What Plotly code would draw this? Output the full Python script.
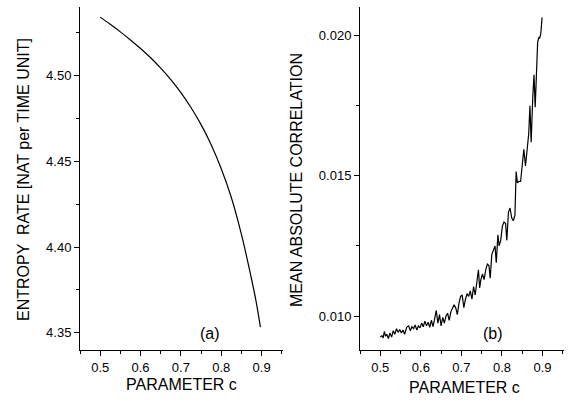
import plotly.graph_objects as go

# Panel (a): entropy rate vs parameter c
c_a = [0.500, 0.525, 0.550, 0.575, 0.600, 0.625, 0.650, 0.675, 0.700, 0.725,
       0.750, 0.775, 0.800, 0.825, 0.850, 0.875, 0.887, 0.897]
entropy = [4.5341, 4.5299, 4.5255, 4.5208, 4.5158, 4.5104, 4.5044, 4.4977, 4.4901, 4.4814,
           4.4714, 4.4597, 4.4457, 4.4289, 4.4074, 4.3814, 4.3675, 4.3533]

# Panel (b): mean absolute correlation vs parameter c
c_b = [0.500, 0.504, 0.507, 0.510, 0.513, 0.516, 0.520, 0.524, 0.528, 0.532,
       0.536, 0.540, 0.544, 0.548, 0.552, 0.556, 0.560, 0.565, 0.570, 0.574,
       0.578, 0.582, 0.586, 0.590, 0.594, 0.598, 0.602, 0.606, 0.610, 0.614,
       0.618, 0.622, 0.626, 0.630, 0.634, 0.638, 0.642, 0.646, 0.650, 0.654,
       0.658, 0.662, 0.666, 0.670, 0.674, 0.678, 0.682, 0.686, 0.690, 0.694,
       0.698, 0.702, 0.706, 0.710, 0.714, 0.718, 0.722, 0.726, 0.730, 0.734,
       0.738, 0.742, 0.745, 0.748, 0.752, 0.756, 0.760, 0.764, 0.768, 0.771,
       0.775, 0.779, 0.783, 0.786, 0.790, 0.793, 0.797, 0.801, 0.805, 0.809,
       0.812, 0.816, 0.820, 0.824, 0.828, 0.832, 0.835, 0.838, 0.842, 0.846,
       0.850, 0.854, 0.858, 0.862, 0.866, 0.869, 0.872, 0.876, 0.879, 0.882,
       0.885, 0.888, 0.891, 0.893, 0.896, 0.899]
correlation = [0.00925, 0.00930, 0.00922, 0.00945, 0.00928, 0.00935, 0.00920, 0.00940, 0.00925, 0.00948,
               0.00935, 0.00955, 0.00942, 0.00952, 0.00940, 0.00950, 0.00935, 0.00960, 0.00965, 0.00948,
               0.00962, 0.00955, 0.00968, 0.00950, 0.00965, 0.00958, 0.00975, 0.00962, 0.00982, 0.00965,
               0.00978, 0.00960, 0.00985, 0.00962, 0.00990, 0.01020, 0.00975, 0.01005, 0.00965, 0.00995,
               0.00975, 0.01000, 0.01010, 0.00985, 0.01015, 0.01030, 0.01040, 0.01030, 0.01005, 0.01045,
               0.01070, 0.01075, 0.01030, 0.01060, 0.01080, 0.01070, 0.01090, 0.01060, 0.01105, 0.01075,
               0.01125, 0.01165, 0.01100, 0.01130, 0.01150, 0.01130, 0.01165, 0.01185, 0.01180, 0.01135,
               0.01220, 0.01235, 0.01250, 0.01190, 0.01290, 0.01250, 0.01270, 0.01320, 0.01335, 0.01330,
               0.01270, 0.01370, 0.01385, 0.01350, 0.01340, 0.01360, 0.01515, 0.01475, 0.01480, 0.01480,
               0.01540, 0.01595, 0.01535, 0.01600, 0.01650, 0.01750, 0.01620, 0.01780, 0.01860, 0.01745,
               0.01900, 0.01975, 0.01995, 0.01990, 0.02010, 0.02065]

x_ticks = [0.5, 0.6, 0.7, 0.8, 0.9]
x_tick_labels = ["0.5", "0.6", "0.7", "0.8", "0.9"]
ya_ticks = [4.35, 4.40, 4.45, 4.50]
ya_tick_labels = ["4.35", "4.40", "4.45", "4.50"]
yb_ticks = [0.010, 0.015, 0.020]
yb_tick_labels = ["0.010", "0.015", "0.020"]

W, H = 571, 403
FONT = "Liberation Sans, Arial, sans-serif"

fig = go.Figure()
fig.add_trace(go.Scatter(x=c_a, y=entropy, mode="lines",
                         line=dict(color="black", width=1.2, shape="spline", smoothing=1.0),
                         xaxis="x", yaxis="y", showlegend=False))
fig.add_trace(go.Scatter(x=c_b, y=correlation, mode="lines", line=dict(color="black", width=1.2),
                         xaxis="x2", yaxis="y2", showlegend=False))

common = dict(showline=True, linecolor="black", linewidth=1, ticks="outside", ticklen=5,
              tickcolor="black", showgrid=False, zeroline=False,
              tickfont=dict(family=FONT, size=13, color="black"))
xcommon = dict(common, range=[0.45, 0.953], tickvals=x_ticks, ticktext=x_tick_labels,
               minor=dict(ticks="outside", ticklen=3, tickcolor="black", dtick=0.05, tick0=0.45))

yd = [1 - 350 / H, 1 - 7 / H]
fig.update_layout(
    width=W, height=H, margin=dict(l=0, r=0, t=0, b=0),
    paper_bgcolor="white", plot_bgcolor="white",
    xaxis=dict(xcommon, domain=[80 / W, 283 / W], anchor="y"),
    yaxis=dict(common, domain=yd, range=[4.34, 4.54], tickvals=ya_ticks, ticktext=ya_tick_labels,
               anchor="x",
               minor=dict(ticks="outside", ticklen=3, tickcolor="black", dtick=0.025, tick0=4.325)),
    xaxis2=dict(xcommon, domain=[360 / W, 564 / W], anchor="y2"),
    yaxis2=dict(common, domain=yd, range=[0.00879, 0.02102], tickvals=yb_ticks, ticktext=yb_tick_labels,
                anchor="x2",
                minor=dict(ticks="outside", ticklen=3, tickcolor="black", dtick=0.0025, tick0=0.0075)),
    font=dict(family=FONT, color="black"),
    annotations=[
        dict(text="ENTROPY  RATE [NAT per TIME UNIT]", xref="paper", yref="paper",
             x=23 / W, y=1 - 180 / H, textangle=-90, showarrow=False,
             font=dict(size=16), xanchor="center", yanchor="middle"),
        dict(text="MEAN ABSOLUTE CORRELATION", xref="paper", yref="paper",
             x=296 / W, y=1 - 180 / H, textangle=-90, showarrow=False,
             font=dict(size=16), xanchor="center", yanchor="middle"),
        dict(text="PARAMETER c", xref="paper", yref="paper", x=181 / W, y=1 - 384 / H,
             showarrow=False, font=dict(size=16), xanchor="center", yanchor="middle"),
        dict(text="PARAMETER c", xref="paper", yref="paper", x=464 / W, y=1 - 387 / H,
             showarrow=False, font=dict(size=16), xanchor="center", yanchor="middle"),
        dict(text="(a)", xref="paper", yref="paper", x=210 / W, y=1 - 333 / H,
             showarrow=False, font=dict(size=16), xanchor="center", yanchor="middle"),
        dict(text="(b)", xref="paper", yref="paper", x=493 / W, y=1 - 333 / H,
             showarrow=False, font=dict(size=16), xanchor="center", yanchor="middle"),
    ],
)

fig.write_html("out.html", config={"displayModeBar": False},
               post_script="document.body.style.margin='0';")
